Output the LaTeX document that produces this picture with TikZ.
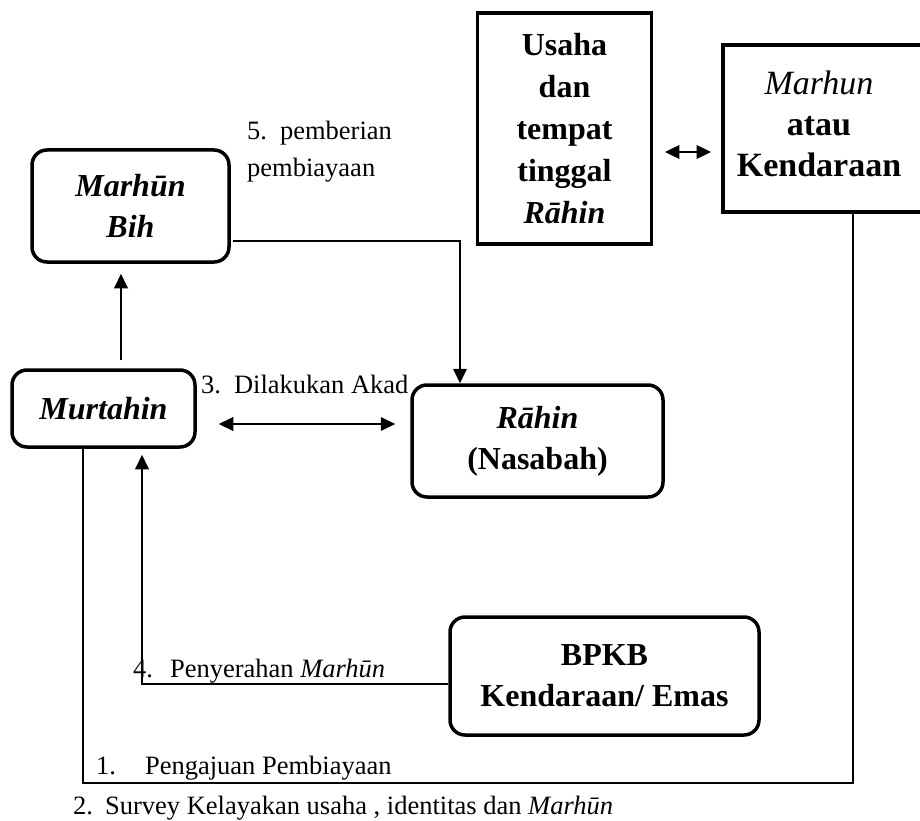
\documentclass[tikz,border=0pt]{standalone}
\usepackage{fontspec}
\setmainfont{Liberation Serif}
\usetikzlibrary{arrows.meta}
\begin{document}
\begin{tikzpicture}[x=1pt,y=-1pt,
  rbox/.style={draw, line width=3.5pt, rounded corners=15pt, inner sep=0pt, align=center},
  sbox/.style={draw, line width=3.8pt, inner sep=0pt, align=center},
  big/.style={font=\fontsize{32}{41}\selectfont\bfseries},
  lab/.style={font=\fontsize{26.5}{36}\selectfont, inner sep=0pt, anchor=base west},
  arr/.style={line width=2pt, -{Triangle[length=14.5pt,width=13.5pt]}},
  darr/.style={line width=2pt, {Triangle[length=14.5pt,width=13.5pt]}-{Triangle[length=14.5pt,width=13.5pt]}},
  loopline/.style={line width=1.5pt}
]
\clip (0,0) rectangle (920,821);
\fill[white] (0,0) rectangle (920,821);

% boxes
\node[sbox, font=\fontsize{32}{42}\selectfont\bfseries, minimum width=174pt, minimum height=231pt] (usaha) at (564.5,128.5)
  {Usaha\\dan\\tempat\\tinggal\\\textit{Rāhin}};
\node[sbox, minimum width=206pt, minimum height=167pt] (marhunbox) at (826,128.5) {};
\node[font=\fontsize{34}{41}\selectfont\bfseries, align=center, inner sep=0pt] (marhuntxt) at (819,124)
  {\textnormal{\itshape Marhun}\\atau\\Kendaraan};
\node[rbox, big, minimum width=197pt, minimum height=112pt] (marhunbih) at (130.5,206)
  {\textit{Marhūn}\\\textit{Bih}};
\node[rbox, big, minimum width=183pt, minimum height=77pt] (murtahin) at (103.5,408.5)
  {\textit{Murtahin}};
\node[rbox, big, minimum width=251pt, minimum height=112pt] (rahin) at (537.5,441)
  {\textit{Rāhin}\\(Nasabah)};
\node[rbox, big, minimum width=309pt, minimum height=118pt] (bpkb) at (604.5,676)
  {BPKB\\Kendaraan/ Emas};

% labels
\node[lab] (l5a) at (247,140) {5.\hspace{13pt}pemberian};
\node[lab] (l5b) at (247,176) {pembiayaan};
\node[lab] (l3) at (201,393) {3.\hspace{13pt}Dilakukan Akad};
\node[lab] (l4) at (133,677) {4.\hspace{17pt}Penyerahan \textit{Marhūn}};
\node[lab] (l1) at (96,774) {1.\hspace{29pt}Pengajuan Pembiayaan};
\node[lab] (l2) at (73,814) {2.\hspace{12pt}Survey Kelayakan usaha , identitas dan \textit{Marhūn}};

% connectors
\draw[arr, shorten <=8pt, shorten >=10pt] ([xshift=17.5pt]murtahin.north) -- ([xshift=17.5pt]murtahin.north |- marhunbih.south);
\draw[arr] ([xshift=2pt,yshift=-35pt]marhunbih.east) -| ([xshift=-77.5pt]rahin.north);
\coordinate (akadL) at ([xshift=22pt,yshift=-15.5pt]murtahin.east);
\draw[darr, shorten >=15pt] (akadL) -- (akadL -| rahin.west);
\coordinate (usL) at ([xshift=11.5pt,yshift=-23.5pt]usaha.east);
\draw[darr, shorten >=10pt] (usL) -- (usL -| marhunbox.west);
\coordinate (loopY) at (0,783);
\draw[loopline] ([xshift=-20.5pt]murtahin.south) -- ([xshift=-20.5pt]murtahin.south |- loopY)
  -| ([xshift=27pt]marhunbox.south);
\draw[arr, shorten >=6pt] ([yshift=-8pt]bpkb.west) -| ([xshift=38.5pt]murtahin.south);
\end{tikzpicture}
\end{document}
